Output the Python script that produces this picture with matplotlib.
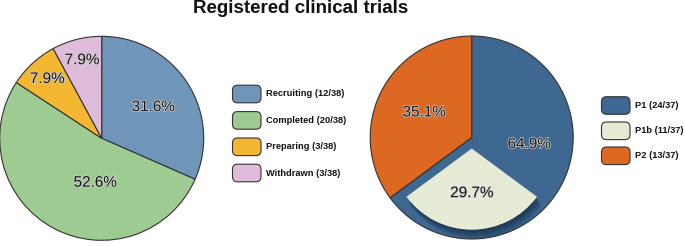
import numpy as np
import matplotlib
matplotlib.use('Agg')
import matplotlib.pyplot as plt
import matplotlib.patches as mpatches
import matplotlib.patheffects as pe

plt.rcParams['font.family'] = ['Liberation Sans', 'DejaVu Sans']

# data
status_labels = ['Recruiting', 'Completed', 'Preparing', 'Withdrawn']
status_counts = [12, 20, 3, 3]
status_colors = ['#6f95b9', '#9ecb91', '#f3b731', '#e0bcdc']

phase_labels = ['P1', 'P1b', 'P2']
phase_counts = [24, 11, 13]
phase_total = 37
phase_colors = ['#3e6891', '#e6ebd6', '#dd6822']

title = 'Registered clinical trials'

# figure in pixel units (y up)
W, H = 685, 247
fig = plt.figure(figsize=(W / 100, H / 100), dpi=100)
ax = fig.add_axes([0, 0, 1, 1])

edge = dict(edgecolor='#333333', linewidth=0.8)
halo = [pe.withStroke(linewidth=1.1, foreground='#cfcfcf')]

def pct_labels(wedges, counts, total, rfrac, shift):
    for w, n, r, s in zip(wedges, counts, rfrac, shift):
        a = np.deg2rad((w.theta1 + w.theta2) / 2 + s)
        x = w.center[0] + r * w.r * np.cos(a)
        y = w.center[1] + r * w.r * np.sin(a)
        ax.text(x, y, f'{100 * n / total:.1f}%', ha='center', va='center',
                fontsize=11, color='#151515', path_effects=halo, zorder=5)

# left pie: trial status
c1, r1 = (101.7, 247 - 138.3), 102
w1, _ = ax.pie(status_counts, colors=status_colors, startangle=90, counterclock=False,
               center=c1, radius=r1, wedgeprops=edge, frame=True)
pct_labels(w1, status_counts, sum(status_counts), [0.59, 0.44, 0.79, 0.79], [-2, 20, 0, 0])

# right pie: phases (P1b is a subset of P1, drawn as an inset wedge)
c2, r2 = (471.7, 247 - 137.5), 101.5
outer = [phase_counts[0], phase_counts[2]]
w2, _ = ax.pie(outer, colors=[phase_colors[0], phase_colors[2]], startangle=90,
               counterclock=False, center=c2, radius=r2, wedgeprops=edge, frame=True)

inner = [phase_counts[0] - phase_counts[1], phase_counts[1], phase_counts[2]]
w3, _ = ax.pie(inner, colors=['none', phase_colors[1], 'none'], startangle=90,
               counterclock=False, center=c2, radius=r2 * 0.8, explode=[0, 11, 0],
               wedgeprops=dict(linewidth=0), frame=True)
p1b = w3[1]
p1b.set_zorder(3)
for i in range(8):
    sh = mpatches.Shadow(p1b, 0.8 + 0.35 * i, -(1.2 + 0.8 * i), facecolor='#10243a',
                         edgecolor='none', alpha=0.11, zorder=2)
    ax.add_patch(sh)

pct_labels(w2, outer, phase_total, [0.57, 0.53], [20, -1])
pct_labels([p1b], [phase_counts[1]], phase_total, [0.55], [0])

# legends
def legend(x0, ys, labels, counts, total, colors):
    for y, lab, n, col in zip(ys, labels, counts, colors):
        yy = H - y
        box = mpatches.FancyBboxPatch((x0, yy - 8.8), 28.5, 17.6,
                                      boxstyle='round,pad=0,rounding_size=5',
                                      facecolor=col, edgecolor='#333333', linewidth=0.8)
        ax.add_patch(box)
        ax.text(x0 + 34, yy, f'{lab} ({n}/{total})', ha='left', va='center',
                fontsize=6.7, fontweight='bold', color='#111111')

legend(232.5, [94, 120.4, 146.8, 173], status_labels, status_counts,
       sum(status_counts), status_colors)
legend(601.5, [105.5, 130.8, 155.8], phase_labels, phase_counts, phase_total, phase_colors)

ax.text(301, H - 12.7, title, ha='center', va='baseline', fontsize=13.5,
        fontweight='bold', color='#111111')

ax.set_xlim(0, W)
ax.set_ylim(0, H)
ax.set_aspect('auto')
ax.axis('off')

fig.savefig('out.png', dpi=100)
